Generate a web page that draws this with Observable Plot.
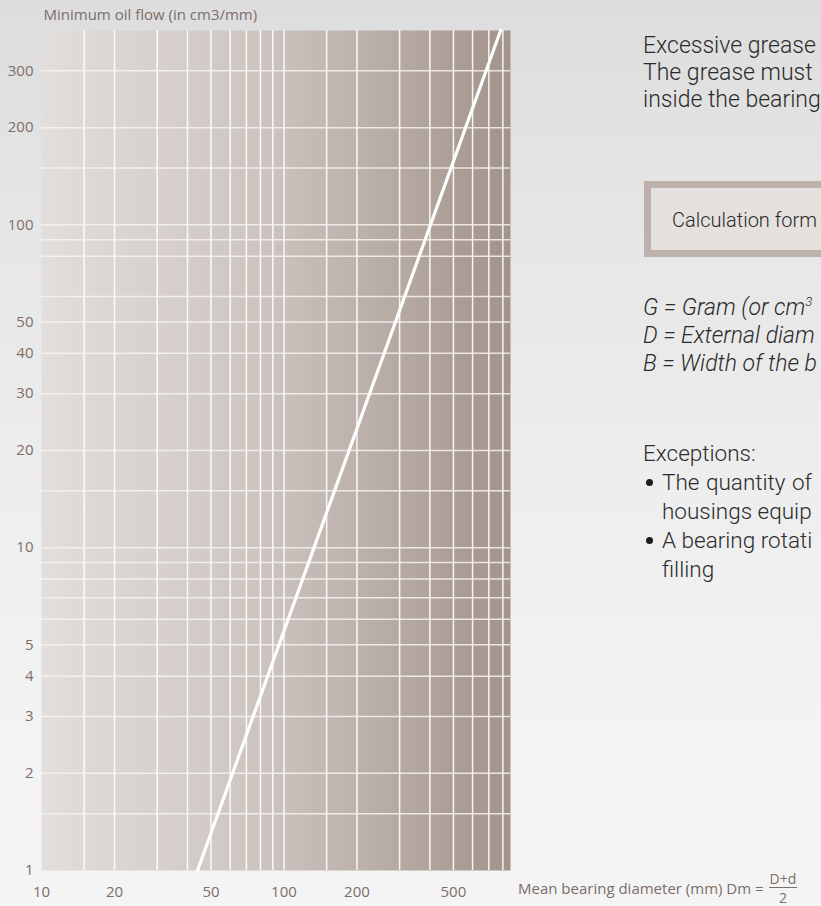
<!DOCTYPE html>
<html><head><meta charset="utf-8">
<script src="https://cdn.jsdelivr.net/npm/d3@7"></script>
<script src="https://cdn.jsdelivr.net/npm/@observablehq/plot@0.6"></script>
<style>
html,body{margin:0;padding:0;width:821px;height:906px;overflow:hidden;}
body{position:relative;background:linear-gradient(to bottom,#dddddd 0%,#e6e6e6 25%,#eeeeee 55%,#f3f3f3 80%,#f4f4f4 100%);font-family:"Open Sans",sans-serif;}
#chart{position:absolute;left:0;top:0;}
.rt{position:absolute;left:643px;white-space:nowrap;font-family:Roboto,"Liberation Sans",sans-serif;font-weight:300;font-size:23px;line-height:27px;color:#2b2b2b;}
.it{font-style:italic;line-height:28px;}
.box{position:absolute;left:644px;top:181px;width:260px;height:76px;background:#e5e1de;border:7px solid #bdb2ab;white-space:nowrap;font-family:Roboto,"Liberation Sans",sans-serif;font-weight:300;font-size:20px;color:#2b2b2b;padding:20px 0 0 21px;box-sizing:border-box;}
.bl{display:block;padding-left:19px;position:relative;}
.bu::before{content:"";position:absolute;left:3px;top:11px;width:7px;height:7px;border-radius:50%;background:#1e1e1e;}
.xt{position:absolute;left:518px;top:868px;height:40px;display:flex;align-items:center;white-space:nowrap;font-size:15px;color:#7b6e69;}
.fr{display:inline-flex;flex-direction:column;align-items:center;margin-left:5px;font-size:14px;line-height:18px;}
.fr .n{border-bottom:1px solid #7b6e69;padding:0 1px;line-height:17px;}
.fr .d{line-height:17px;padding-top:1px;}
</style></head><body>
<div id="chart"></div>
<div class="rt" style="top:32px">Excessive grease<br>The grease must<br>inside the bearing</div>
<div class="box">Calculation form</div>
<div class="rt it" style="top:294px">G = Gram (or cm<sup style="font-size:13px;line-height:0">3</sup><br>D = External diam<br>B = Width of the b</div>
<div class="rt" style="top:439px;line-height:29px;font-size:22.5px">Exceptions:<span class="bl bu" style="word-spacing:1px">The quantity of</span><span class="bl">housings equip</span><span class="bl bu">A bearing rotati</span><span class="bl">filling</span></div>
<div class="xt">Mean bearing diameter (mm) Dm =<span class="fr"><span class="n">D+d</span><span class="d">2</span></span></div>
<script>
// Data
const yTitle = "Minimum oil flow (in cm3/mm)";
const xTicks = [10, 20, 50, 100, 200, 500];
const yTicks = [1, 2, 3, 4, 5, 10, 20, 30, 40, 50, 100, 200, 300];
const xGrid = [15, 20, 30, 40, 50, 60, 70, 80, 90, 100, 150, 200, 300, 400, 500, 600, 700, 800];
const yGrid = [1.5, 2, 3, 4, 5, 6, 7, 8, 9, 10, 15, 20, 30, 40, 50, 60, 80, 90, 100, 150, 200, 300];
const lineDiameter = [44, 783];
const lineFlow = [1, 400];

const lineData = lineDiameter.map((d, i) => ({d, flow: lineFlow[i]}));
const labelColor = "#7b6e69";

const plot = Plot.plot({
  width: 821,
  height: 906,
  marginLeft: 41,
  marginTop: 30,
  marginRight: 311,
  marginBottom: 36,
  style: {background: "transparent", fontFamily: "'Open Sans', sans-serif", fontSize: "15px", color: labelColor},
  x: {type: "log", domain: [10, 860], ticks: xTicks, tickFormat: d => String(d), tickSize: 0, tickPadding: 16, label: null},
  y: {type: "log", domain: [1, 400], axis: null},
  marks: [
    Plot.frame({fill: "url(#plotGrad)", stroke: "none"}),
    Plot.ruleX(xGrid, {stroke: "#ffffff", strokeWidth: 1.5, strokeOpacity: 0.9}),
    Plot.ruleY(yGrid, {stroke: "#f7f3f1", strokeWidth: 1.5, strokeOpacity: 0.85}),
    Plot.line(lineData, {x: "d", y: "flow", stroke: "#ffffff", strokeWidth: 3.2}),
    Plot.text(yTicks, {y: d => d, text: d => String(d), frameAnchor: "left", textAnchor: "end", dx: -8, fill: labelColor, fontSize: 15}),
    Plot.text([yTitle], {frameAnchor: "top-left", text: d => d, textAnchor: "start", lineAnchor: "bottom", dx: 2, dy: -11, fill: labelColor, fontSize: 15})
  ]
});

const defs = d3.select(plot).insert("defs", ":first-child");
const g = defs.append("linearGradient").attr("id", "plotGrad").attr("x1", "0").attr("x2", "1").attr("y1", "0").attr("y2", "0");
g.append("stop").attr("offset", "0%").attr("stop-color", "#e3dedb");
g.append("stop").attr("offset", "50%").attr("stop-color", "#cbc2bd");
g.append("stop").attr("offset", "100%").attr("stop-color", "#a2938b");

document.getElementById("chart").appendChild(plot);
</script>
</body></html>
